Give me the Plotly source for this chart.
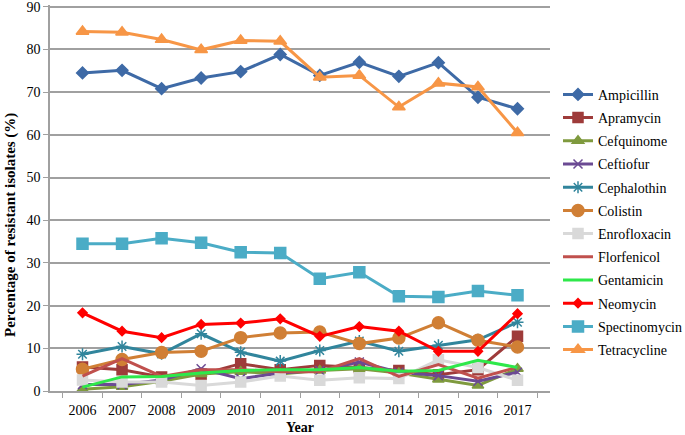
import plotly.graph_objects as go

years = ["2006", "2007", "2008", "2009", "2010", "2011", "2012", "2013", "2014", "2015", "2016", "2017"]

ampicillin = [74.5, 75.1, 70.8, 73.3, 74.8, 78.8, 73.9, 77.0, 73.7, 76.9, 68.8, 66.1]
apramycin = [5.6, 5.0, 3.3, 3.9, 6.4, 5.0, 6.0, 5.5, 4.8, 3.8, 5.0, 12.8]
cefquinome = [0.4, 1.0, 2.3, 4.0, 4.5, 4.0, 4.8, 5.2, 4.2, 2.7, 1.3, 5.2]
ceftiofur = [1.5, 1.5, 2.6, 5.2, 2.9, 4.2, 4.8, 6.8, 4.4, 3.6, 2.3, 4.4]
cephalothin = [8.6, 10.4, 8.7, 13.4, 9.1, 7.0, 9.5, 11.7, 9.3, 10.7, 12.0, 16.1]
colistin = [5.1, 7.4, 9.0, 9.3, 12.5, 13.6, 13.8, 11.1, 12.4, 16.0, 11.9, 10.3]
enrofloxacin = [2.6, 2.1, 2.1, 1.3, 2.1, 3.5, 2.5, 3.1, 2.9, 7.3, 5.5, 2.5]
florfenicol = [3.5, 7.6, 3.4, 5.0, 5.0, 4.5, 4.5, 7.6, 3.4, 6.2, 3.0, 5.6]
gentamicin = [0.9, 3.3, 3.4, 4.2, 4.8, 5.0, 5.0, 5.5, 4.6, 4.8, 7.2, 5.5]
neomycin = [18.3, 14.0, 12.5, 15.6, 15.9, 16.9, 12.8, 15.1, 14.0, 9.3, 9.3, 18.1]
spectinomycin = [34.5, 34.5, 35.8, 34.7, 32.5, 32.3, 26.3, 27.8, 22.2, 22.0, 23.4, 22.4]
tetracycline = [84.2, 84.0, 82.3, 79.9, 82.1, 81.9, 73.5, 73.9, 66.5, 72.1, 71.2, 60.5]

y_ticks = [0, 10, 20, 30, 40, 50, 60, 70, 80, 90]

series = [
    ("Ampicillin", ampicillin, "#3E6AA6", "diamond", 9),
    ("Apramycin", apramycin, "#9E3B3A", "square", 10),
    ("Cefquinome", cefquinome, "#7F9A3E", "triangle-up", 10),
    ("Ceftiofur", ceftiofur, "#6B4A93", "x-thin-open", 9),
    ("Cephalothin", cephalothin, "#31859C", "asterisk-open", 10),
    ("Colistin", colistin, "#D07F35", "circle", 12),
    ("Enrofloxacin", enrofloxacin, "#D9D9D9", "square", 10),
    ("Florfenicol", florfenicol, "#C0504D", None, 0),
    ("Gentamicin", gentamicin, "#2EE84A", None, 0),
    ("Neomycin", neomycin, "#FF0000", "diamond", 7),
    ("Spectinomycin", spectinomycin, "#4BACC6", "square", 11),
    ("Tetracycline", tetracycline, "#F79646", "triangle-up", 11),
]

fig = go.Figure()
for name, vals, color, sym, size in series:
    if sym is None:
        fig.add_trace(go.Scatter(x=years, y=vals, name=name, mode="lines", legendgroup=name,
                                 line=dict(color=color, width=3)))
    else:
        fig.add_trace(go.Scatter(x=years, y=vals, name=name, mode="lines+markers", legendgroup=name,
                                 line=dict(color=color, width=3),
                                 marker=dict(symbol=sym, size=size, color=color,
                                             line=dict(color=color, width=1.5))))

font = "Liberation Serif"
fig.update_layout(
    width=685, height=435,
    margin=dict(l=50, r=135, t=5, b=44, autoexpand=False),
    paper_bgcolor="white", plot_bgcolor="white",
    font=dict(family=font, size=14, color="black"),
    showlegend=True,
    legend=dict(x=1.016, xanchor="left", y=0.437, yanchor="middle",
                font=dict(family=font, size=14, color="black"),
                itemwidth=30, tracegroupgap=2, bgcolor="rgba(0,0,0,0)"),
    xaxis=dict(type="category", showgrid=False, showline=True, linecolor="#A0A0A0",
               linewidth=1.5, ticks="outside", tickson="boundaries", ticklen=5,
               tickcolor="#A0A0A0", tickfont=dict(family=font, size=14),
               ticklabelstandoff=5, automargin=False),
    yaxis=dict(range=[0, 90.4], tickvals=y_ticks, showgrid=True, gridcolor="#A0A0A0",
               gridwidth=1.5, showline=True, linecolor="#A0A0A0", linewidth=1.5,
               ticks="outside", ticklen=5, tickcolor="#A0A0A0", zeroline=False,
               tickfont=dict(family=font, size=14), automargin=False,
               ticklabeloverflow="allow"),
    annotations=[
        dict(text="<b>Year</b>", x=0.5, xref="paper", y=-37 / 386, yref="paper",
             xanchor="center", yanchor="middle", showarrow=False,
             font=dict(family=font, size=14, color="black")),
        dict(text="<b>Percentage of resistant isolates (%)</b>", x=-40 / 500, xref="paper",
             y=0.43, yref="paper", xanchor="center", yanchor="middle", textangle=-90,
             showarrow=False, font=dict(family=font, size=15, color="black")),
    ],
)

fig.write_html(
    "out.html",
    config={"displayModeBar": False},
    post_script="document.body.style.margin='0px';document.body.style.padding='0px';",
)
